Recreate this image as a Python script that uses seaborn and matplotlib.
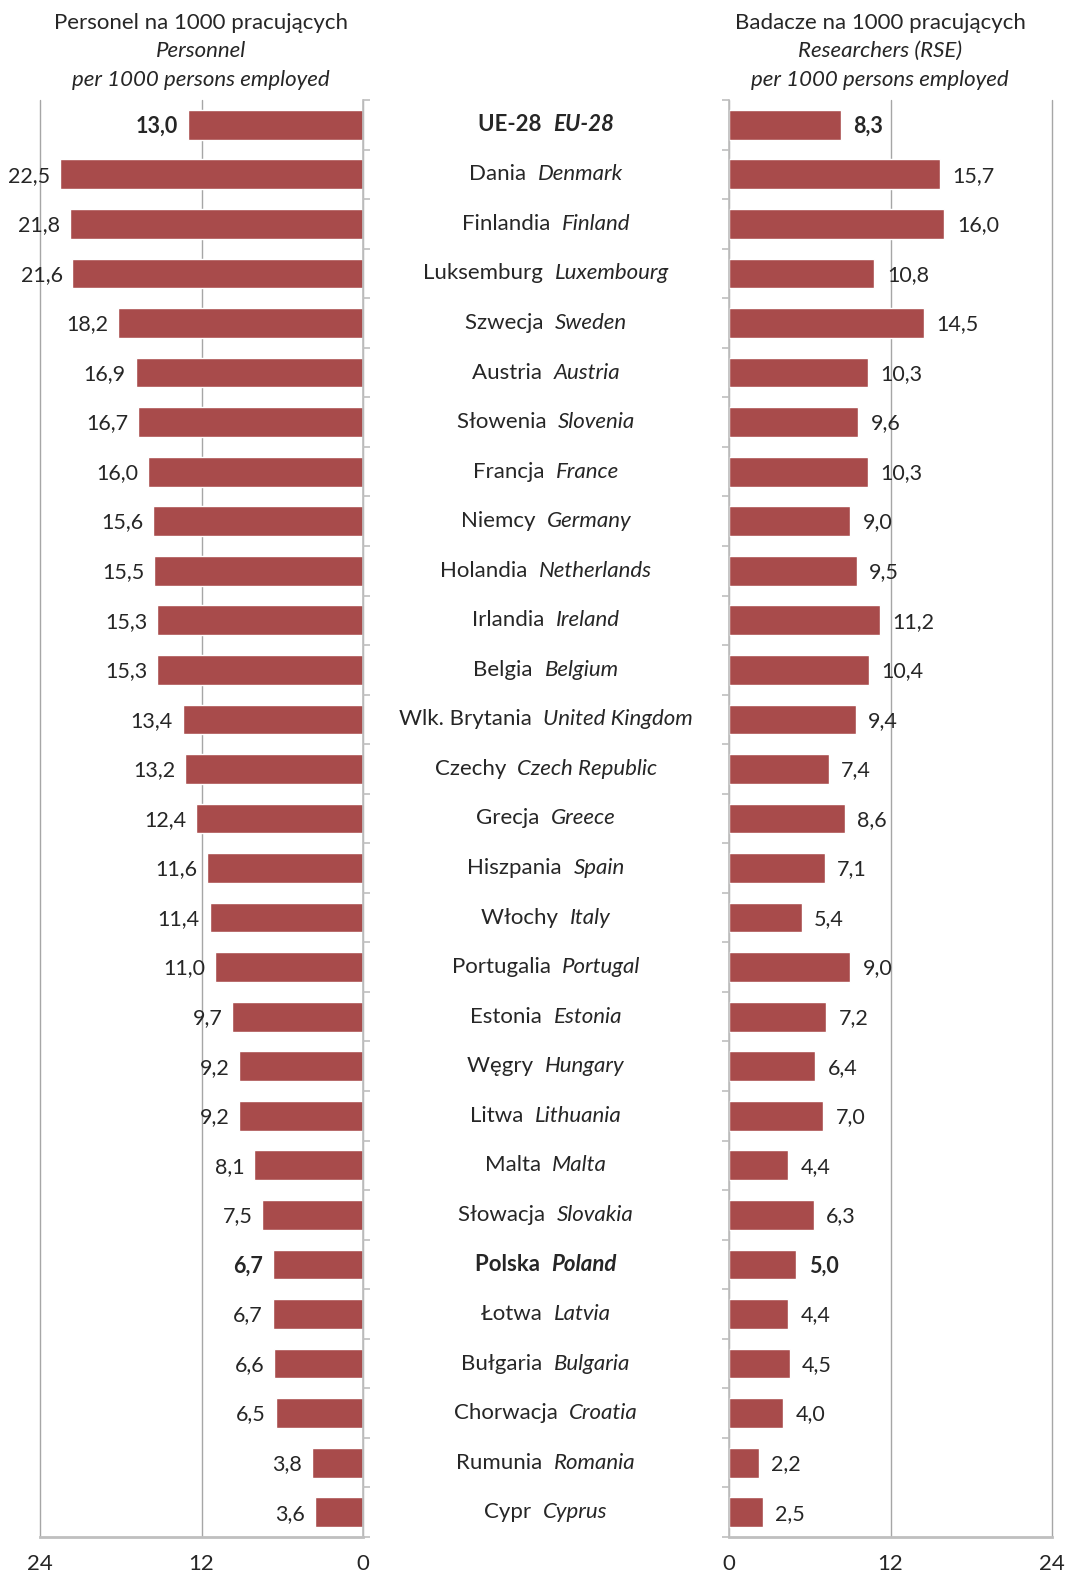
import numpy as np
import pandas as pd
import matplotlib
matplotlib.use("Agg")
import matplotlib.pyplot as plt
import matplotlib.transforms as mtransforms
import seaborn as sns

# data
countries_pl = ["UE-28", "Dania", "Finlandia", "Luksemburg", "Szwecja", "Austria", "Słowenia",
                "Francja", "Niemcy", "Holandia", "Irlandia", "Belgia", "Wlk. Brytania", "Czechy",
                "Grecja", "Hiszpania", "Włochy", "Portugalia", "Estonia", "Węgry", "Litwa",
                "Malta", "Słowacja", "Polska", "Łotwa", "Bułgaria", "Chorwacja", "Rumunia", "Cypr"]
countries_en = ["EU-28", "Denmark", "Finland", "Luxembourg", "Sweden", "Austria", "Slovenia",
                "France", "Germany", "Netherlands", "Ireland", "Belgium", "United Kingdom",
                "Czech Republic", "Greece", "Spain", "Italy", "Portugal", "Estonia", "Hungary",
                "Lithuania", "Malta", "Slovakia", "Poland", "Latvia", "Bulgaria", "Croatia",
                "Romania", "Cyprus"]
personnel = [13.0, 22.5, 21.8, 21.6, 18.2, 16.9, 16.7, 16.0, 15.6, 15.5, 15.3, 15.3, 13.4, 13.2,
             12.4, 11.6, 11.4, 11.0, 9.7, 9.2, 9.2, 8.1, 7.5, 6.7, 6.7, 6.6, 6.5, 3.8, 3.6]
researchers = [8.3, 15.7, 16.0, 10.8, 14.5, 10.3, 9.6, 10.3, 9.0, 9.5, 11.2, 10.4, 9.4, 7.4,
               8.6, 7.1, 5.4, 9.0, 7.2, 6.4, 7.0, 4.4, 6.3, 5.0, 4.4, 4.5, 4.0, 2.2, 2.5]
bold_rows = ["EU-28", "Poland"]
x_ticks = [0, 12, 24]

df = pd.DataFrame({"en": countries_en, "pl": countries_pl,
                   "personnel": personnel, "researchers": researchers})

sns.set_style("white")
plt.rcParams["font.family"] = ["Lato", "DejaVu Sans"]
BAR = "#A84B4B"
GRID = "#A6A6A6"
SPINE = "#BFBFBF"
TXT = "#262626"

W, H = 1072, 1575
fig = plt.figure(figsize=(W / 100, H / 100), dpi=100)
top, bottom = 100, 1537
ax_l = fig.add_axes([40 / W, 1 - bottom / H, 323 / W, (bottom - top) / H])
ax_r = fig.add_axes([729 / W, 1 - bottom / H, 323 / W, (bottom - top) / H])

sns.barplot(data=df, y="en", x="personnel", ax=ax_l, color=BAR, width=0.6, saturation=1)
sns.barplot(data=df, y="en", x="researchers", ax=ax_r, color=BAR, width=0.6, saturation=1)

n = len(df)
for ax, side in [(ax_l, "left"), (ax_r, "right")]:
    ax.set_xlim(24, 0) if side == "left" else ax.set_xlim(0, 24)
    ax.set_ylim(n - 0.5, -0.5)
    ax.set_xlabel("")
    ax.set_ylabel("")
    ax.set_xticks(x_ticks)
    ax.tick_params(axis="x", length=0, labelsize=16, labelcolor=TXT, pad=12)
    ax.set_yticks(np.arange(-0.5, n, 1.0))
    ax.set_yticklabels([])
    ax.xaxis.grid(True, color=GRID, linewidth=1)
    for gl in ax.get_xgridlines():
        gl.set_clip_on(False)
    ax.set_axisbelow(True)
    for s in ["top", "left", "right"]:
        ax.spines[s].set_visible(False)
    ax.spines["bottom"].set_color(SPINE)
    ax.spines["bottom"].set_linewidth(2)
    inner = "right" if side == "left" else "left"
    ax.spines[inner].set_visible(True)
    ax.spines[inner].set_color(SPINE)
    ax.spines[inner].set_linewidth(1.2)
    if side == "left":
        ax.yaxis.tick_right()
    else:
        ax.yaxis.tick_left()
    ax.tick_params(axis="y", length=5, color=SPINE, width=1.2, direction="out")

# value labels
for i, row in df.iterrows():
    w = "bold" if row["en"] in bold_rows else "normal"
    ax_l.annotate(f"{row['personnel']:.1f}".replace(".", ","), (row["personnel"], i),
                  xytext=(-7, -1), textcoords="offset points", ha="right", va="center",
                  fontsize=15.5, color=TXT, fontweight=w)
    ax_r.annotate(f"{row['researchers']:.1f}".replace(".", ","), (row["researchers"], i),
                  xytext=(9, -1), textcoords="offset points", ha="left", va="center",
                  fontsize=15.5, color=TXT, fontweight=w)

# category labels: Polish regular + English italic, centred between the panels
renderer = fig.canvas.get_renderer()
trans = mtransforms.blended_transform_factory(fig.transFigure, ax_l.transData)
cx = 546 / W
for i, row in df.iterrows():
    w = "bold" if row["en"] in bold_rows else "normal"
    t1 = fig.text(0, i, row["pl"] + "  ", transform=trans, ha="left", va="center",
                  fontsize=16, color=TXT, fontweight=w)
    t2 = fig.text(0, i, row["en"], transform=trans, ha="left", va="center",
                  fontsize=16, color=TXT, fontweight=w, fontstyle="italic")
    w1 = t1.get_window_extent(renderer).width / W
    w2 = t2.get_window_extent(renderer).width / W
    x0 = cx - (w1 + w2) / 2
    t1.set_x(x0)
    t2.set_x(x0 + w1)

# panel headers
for xc, lines in [(201, ["Personel na 1000 pracujących", "Personnel", "per 1000 persons employed"]),
                  (880, ["Badacze na 1000 pracujących", "Researchers (RSE)", "per 1000 persons employed"])]:
    for k, (txt, yy) in enumerate(zip(lines, [23, 51, 80])):
        fig.text(xc / W, 1 - yy / H, txt, ha="center", va="center", fontsize=16, color=TXT,
                 fontstyle="normal" if k == 0 else "italic")

fig.savefig("out.png", dpi=100)
